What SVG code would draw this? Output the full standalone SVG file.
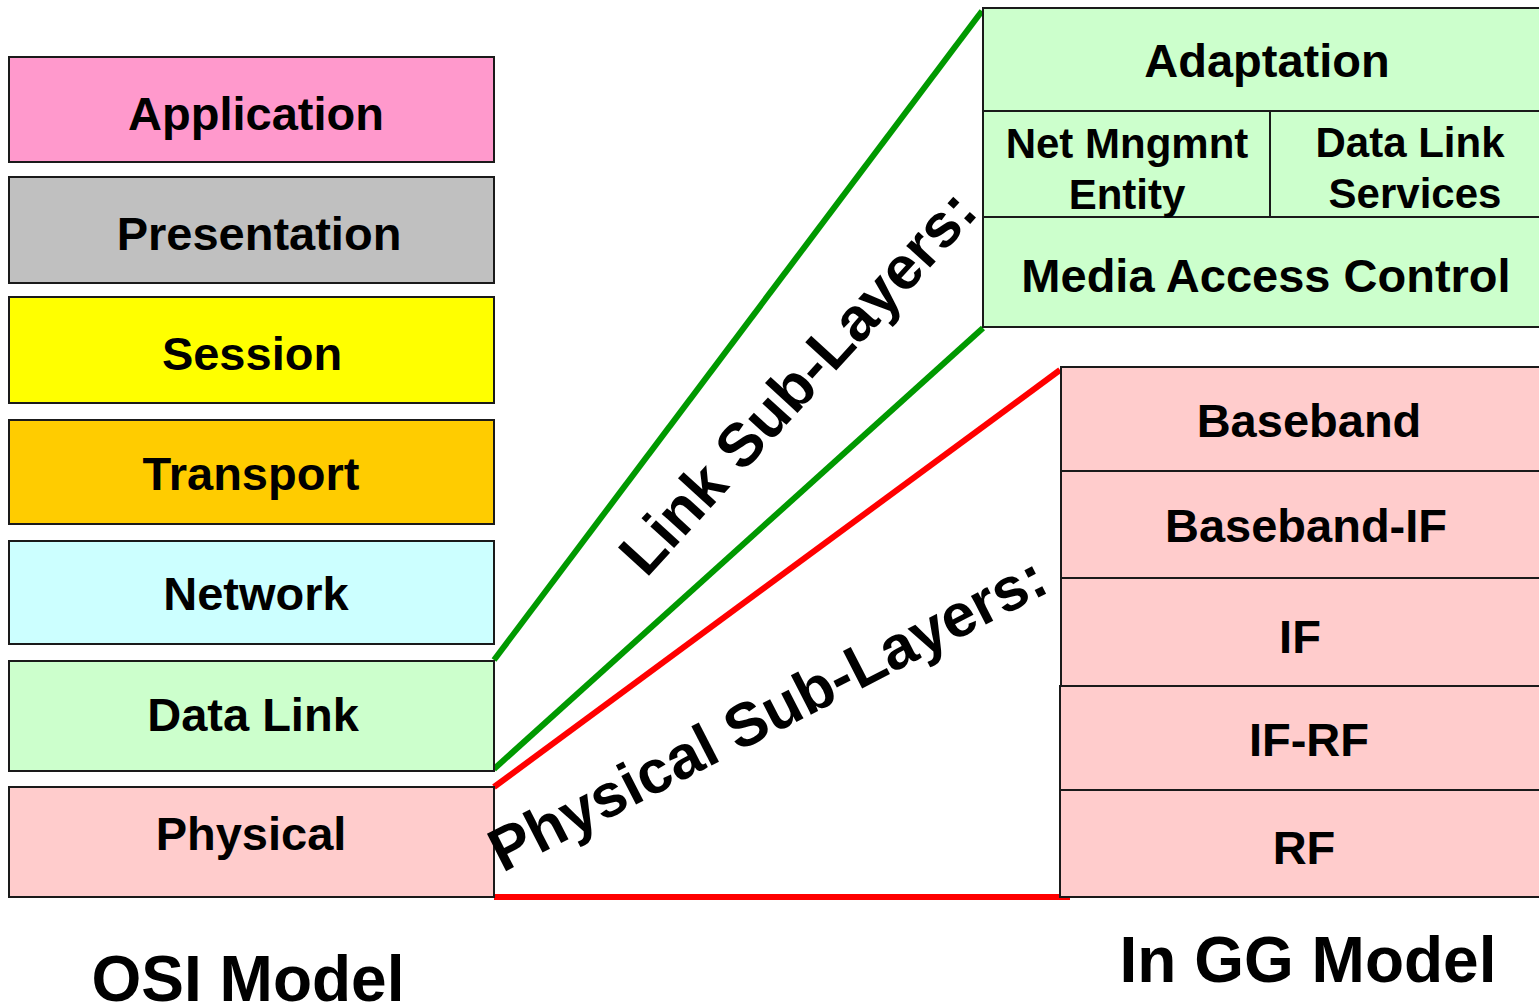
<svg xmlns="http://www.w3.org/2000/svg" width="1539" height="1005" viewBox="0 0 1539 1005">
<style>
.box{stroke:#1a1a1a;stroke-width:2}
.t{font-family:"Liberation Sans",Arial,sans-serif;font-weight:bold;fill:#000;text-anchor:middle}
.l{font-size:47px}
.s{font-size:42px}
.big{font-size:64px}
.rot{font-size:61px}
.div{stroke:#1a1a1a;stroke-width:2;fill:none}
.g{stroke:#009900;stroke-width:6;fill:none}
.r{stroke:#FF0000;stroke-width:6;fill:none}
</style>
<rect width="1539" height="1005" fill="#fff"/>
<g id="connectors">
<line class="g" x1="494" y1="660" x2="982" y2="11"/>
<line class="g" x1="494" y1="769" x2="983" y2="328"/>
<line class="r" x1="494" y1="787" x2="1060" y2="370"/>
<line class="r" x1="494" y1="897" x2="1070" y2="897"/>
</g>
<g id="application"><rect class="box" x="9" y="57" width="485" height="105" fill="#FF99CC"/><text class="t l" x="256" y="130">Application</text></g>
<g id="presentation"><rect class="box" x="9" y="177" width="485" height="106" fill="#C0C0C0"/><text class="t l" x="259" y="250">Presentation</text></g>
<g id="session"><rect class="box" x="9" y="297" width="485" height="106" fill="#FFFF00"/><text class="t l" x="252" y="370">Session</text></g>
<g id="transport"><rect class="box" x="9" y="420" width="485" height="104" fill="#FFCC00"/><text class="t l" x="251" y="490">Transport</text></g>
<g id="network"><rect class="box" x="9" y="541" width="485" height="103" fill="#CCFFFF"/><text class="t l" x="256" y="610">Network</text></g>
<g id="datalink"><rect class="box" x="9" y="661" width="485" height="110" fill="#CCFFCC"/><text class="t l" x="253" y="731">Data Link</text></g>
<g id="physical"><rect class="box" x="9" y="787" width="485" height="110" fill="#FFCCCC"/><text class="t l" x="251" y="850">Physical</text></g>
<g id="link-sublayers">
<rect class="box" x="983" y="8" width="600" height="319" fill="#CCFFCC"/>
<line class="div" x1="983" y1="111" x2="1545" y2="111"/>
<line class="div" x1="983" y1="217" x2="1545" y2="217"/>
<line class="div" x1="1270" y1="111" x2="1270" y2="217"/>
<text class="t l" x="1267" y="77">Adaptation</text>
<text class="t s" x="1127" y="158">Net Mngmnt</text>
<text class="t s" x="1127" y="209">Entity</text>
<text class="t s" x="1410" y="157">Data Link</text>
<text class="t s" x="1415" y="208">Services</text>
<text class="t l" x="1266" y="292">Media Access Control</text>
</g>
<g id="baseband"><rect class="box" x="1061" y="367" width="520" height="104" fill="#FFCCCC"/><text class="t l" x="1309" y="437">Baseband</text></g>
<g id="baseband-if"><rect class="box" x="1061" y="471" width="520" height="107" fill="#FFCCCC"/><text class="t l" x="1306" y="542">Baseband-IF</text></g>
<g id="if"><rect class="box" x="1061" y="578" width="520" height="108" fill="#FFCCCC"/><text class="t l" x="1300" y="653">IF</text></g>
<g id="if-rf"><rect class="box" x="1060" y="686" width="520" height="104" fill="#FFCCCC"/><text class="t l" x="1309" y="756">IF-RF</text></g>
<g id="rf"><rect class="box" x="1060" y="790" width="520" height="107" fill="#FFCCCC"/><text class="t l" x="1304" y="864">RF</text></g>
<g id="labels">
<text class="t rot" transform="translate(813,396) rotate(-47.6)">Link Sub-Layers:</text>
<text class="t rot" transform="translate(777,732) rotate(-27.2)">Physical Sub-Layers:</text>
<text class="t big" x="248" y="1001">OSI Model</text>
<text class="t big" x="1308" y="982">In GG Model</text>
</g>
</svg>
